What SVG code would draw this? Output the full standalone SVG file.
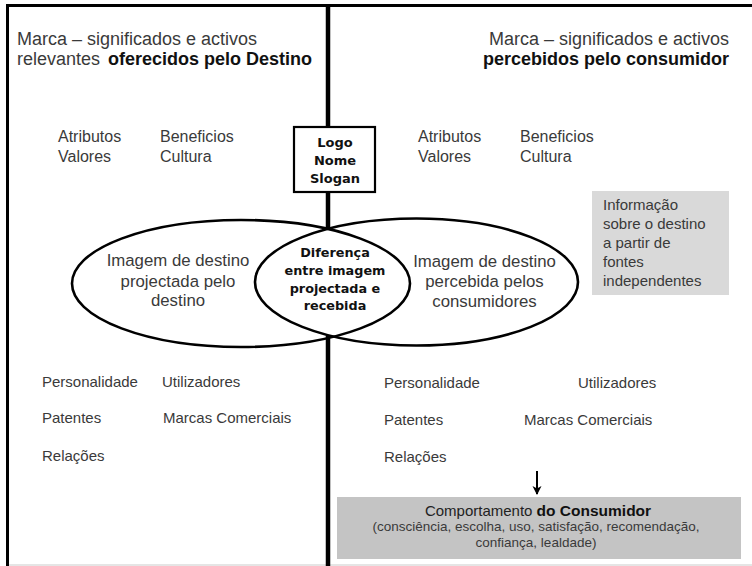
<svg xmlns="http://www.w3.org/2000/svg" width="752" height="566" viewBox="0 0 752 566">
<style>
.t{font-family:"Liberation Sans",Arial,sans-serif;fill:#3a3a3a;}
.b{font-family:"Liberation Sans",Arial,sans-serif;font-weight:bold;fill:#111;}
.v{font-family:"DejaVu Sans",Verdana,sans-serif;font-weight:bold;fill:#111;text-anchor:middle;}
.h{font-size:18px;}
.a{font-size:16px;}
.el{font-size:16.8px;}
.l{font-size:15px;}
.e{fill:none;stroke:#000;stroke-width:2.6;}
.bar{stroke:#000;stroke-width:4.5;fill:none;}
</style>
<defs>
<marker id="ah" markerWidth="10" markerHeight="10" refX="8" refY="5" orient="auto" markerUnits="userSpaceOnUse">
<path d="M0,0.5 L9,5 L0,9.5 L2.5,5 Z" fill="#000"/>
</marker>
</defs>
<rect width="752" height="566" fill="#fff"/>
<g id="frame">
<line x1="6" y1="5.5" x2="752" y2="5.5" stroke="#000" stroke-width="3"/>
<line x1="7.5" y1="4" x2="7.5" y2="566" stroke="#000" stroke-width="3"/>
<line x1="9" y1="565" x2="752" y2="565" stroke="#ccc" stroke-width="1.2"/>
</g>
<g id="connectors">
<line class="bar" x1="328" y1="5" x2="328" y2="127"/>
<line class="bar" x1="328" y1="192" x2="328" y2="230"/>
<line class="bar" x1="328" y1="336" x2="328" y2="566"/>
<line x1="537" y1="471" x2="537" y2="494" stroke="#000" stroke-width="2" marker-end="url(#ah)"/>
</g>
<g id="header-left">
<text class="t h" x="17" y="45">Marca – significados e activos</text>
<text class="t h" x="17" y="65">relevantes <tspan class="b" dx="3">oferecidos pelo Destino</tspan></text>
</g>
<g id="header-right">
<text class="t h" x="729" y="45" text-anchor="end">Marca – significados e activos</text>
<text class="b h" x="729" y="65" text-anchor="end">percebidos pelo consumidor</text>
</g>
<g id="attrs-left">
<text class="t a" x="58" y="142">Atributos</text>
<text class="t a" x="58" y="162">Valores</text>
<text class="t a" x="160" y="142">Beneficios</text>
<text class="t a" x="160" y="162">Cultura</text>
</g>
<g id="attrs-right">
<text class="t a" x="418" y="142">Atributos</text>
<text class="t a" x="418" y="162">Valores</text>
<text class="t a" x="520" y="142">Beneficios</text>
<text class="t a" x="520" y="162">Cultura</text>
</g>
<g id="logo">
<rect x="294" y="127" width="81" height="65" fill="#fff" stroke="#000" stroke-width="2.2"/>
<text class="v" font-size="13" x="335" y="147">Logo</text>
<text class="v" font-size="13" x="335" y="165">Nome</text>
<text class="v" font-size="13" x="335" y="183">Slogan</text>
</g>
<g id="image-projected">
<ellipse class="e" cx="241" cy="283.5" rx="169" ry="63.5"/>
<text class="t el" x="178" y="266" text-anchor="middle">Imagem de destino</text>
<text class="t el" x="178" y="287" text-anchor="middle">projectada pelo</text>
<text class="t el" x="178" y="306" text-anchor="middle">destino</text>
</g>
<g id="image-perceived">
<ellipse class="e" cx="416.5" cy="282" rx="161.5" ry="63.5"/>
<text class="t el" x="484.5" y="267" text-anchor="middle">Imagem de destino</text>
<text class="t el" x="484.5" y="287" text-anchor="middle">percebida pelos</text>
<text class="t el" x="484.5" y="307" text-anchor="middle">consumidores</text>
</g>
<g id="difference">
<text class="v" font-size="12.8" x="335" y="257">Diferença</text>
<text class="v" font-size="12.8" x="335" y="275">entre imagem</text>
<text class="v" font-size="12.8" x="335" y="293">projectada e</text>
<text class="v" font-size="12.8" x="335" y="310">recebida</text>
</g>
<g id="info">
<rect x="592" y="191" width="137" height="104" fill="#d9d9d9"/>
<text class="t l" x="603" y="210">Informação</text>
<text class="t l" x="603" y="229">sobre o destino</text>
<text class="t l" x="603" y="248">a partir de</text>
<text class="t l" x="603" y="267">fontes</text>
<text class="t l" x="603" y="286">independentes</text>
</g>
<g id="assets-left">
<text class="t l" x="42" y="387">Personalidade</text>
<text class="t l" x="162" y="387">Utilizadores</text>
<text class="t l" x="42" y="423">Patentes</text>
<text class="t l" x="163" y="423">Marcas Comerciais</text>
<text class="t l" x="42" y="461">Relações</text>
</g>
<g id="assets-right">
<text class="t l" x="384" y="388">Personalidade</text>
<text class="t l" x="578" y="388">Utilizadores</text>
<text class="t l" x="384" y="425">Patentes</text>
<text class="t l" x="524" y="425">Marcas Comerciais</text>
<text class="t l" x="384" y="462">Relações</text>
</g>
<g id="behaviour">
<rect x="337" y="497" width="404" height="62" fill="#c4c4c4"/>
<text class="t" font-size="15" x="538" y="516" text-anchor="middle" style="fill:#222">Comportamento <tspan class="b" font-size="15.5">do Consumidor</tspan></text>
<text class="t" font-size="13.5" x="536" y="531" text-anchor="middle">(consciência, escolha, uso, satisfação, recomendação,</text>
<text class="t" font-size="13.5" x="536" y="547" text-anchor="middle">confiança, lealdade)</text>
</g>
</svg>
